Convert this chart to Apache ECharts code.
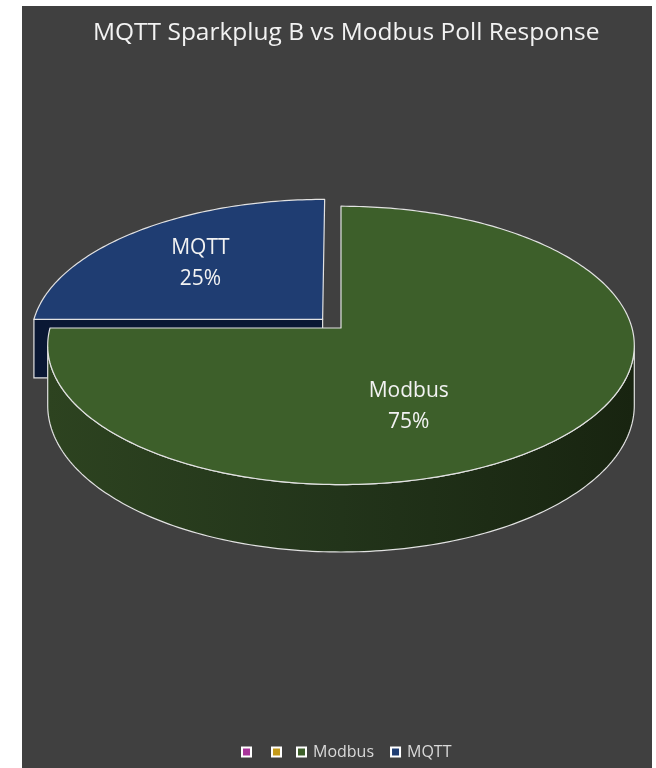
<!DOCTYPE html>
<html><head><meta charset="utf-8">
<script src="https://cdn.jsdelivr.net/npm/echarts@6/dist/echarts.min.js"></script>
<style>
html,body{margin:0;padding:0;background:#fff;width:656px;height:768px;overflow:hidden}
#panel{position:absolute;left:22px;top:6px;width:630px;height:762px;background:#404040}
#chart{position:absolute;left:0;top:0;width:656px;height:768px}
</style></head><body>
<div id="panel"></div><div id="chart"></div>
<script>
// ---- data ----
const chartTitle = 'MQTT Sparkplug B vs Modbus Poll Response';
const categories = ['', '', 'Modbus', 'MQTT'];
const values = [0, 0, 75, 25];

// ---- styles / layout ----
const sliceColors = ['#a8349a', '#c49a1a', '#3d5f2a', '#1f3d72'];
const wallColors = [
  ['#6a1f5d', '#4a1541'], ['#7a600f', '#554309'],
  ['#2d4320', '#22341a', '#182410'], ['#0d1c3a', '#091530']
];
const cutColors = ['#5a1a4f', '#6a530d', '#22341a', '#0a1834'];
const explode = [0, 0, 0, 0.09];
const labelPlace = [null, null, {r: 0.58, dphi: 23}, {r: 0.625, dphi: -1}];
const PIE = {cx: 341, cy: 328, rx: 291, ry: 137, persp: 0.125, depth: 59};
const EDGE = '#e2e2e2';
const FONT = '"Open Sans", "Noto Sans", sans-serif';

const total = values.reduce((a, b) => a + b, 0);
const legendNames = categories.map((c, i) => c === '' ? '\u200b'.repeat(i + 1) : c);

function proj(phi, r, z, ex, exPhi) {
  const a = phi * Math.PI / 180, e = exPhi * Math.PI / 180;
  const u = r * Math.sin(a) + ex * Math.sin(e);
  const v = -r * Math.cos(a) - ex * Math.cos(e);
  const s = 1 / (1 - PIE.persp * v);
  return [PIE.cx + PIE.rx * u * s, PIE.cy + (PIE.ry * v + PIE.depth * z) * s];
}
function arc(from, to, z, ex, exPhi) {
  const pts = [];
  const n = Math.max(2, Math.ceil(Math.abs(to - from)));
  for (let j = 0; j <= n; j++) pts.push(proj(from + (to - from) * j / n, 1, z, ex, exPhi));
  return pts;
}
const silR = Math.acos(-PIE.persp) * 180 / Math.PI;
const silL = 360 - silR;

function makeRender(i) {
  return function (params, api) {
    const val = api.value(0);
    if (!val) return {type: 'group', children: []};
    let before = 0;
    for (let j = 0; j < i; j++) before += values[j];
    const start = before / total * 360, end = start + val / total * 360;
    const mid = (start + end) / 2, ex = explode[i];
    const children = [];
    const cut = (ang) => {
      const pts = [proj(0, 0, 0, ex, mid), proj(ang, 1, 0, ex, mid), proj(ang, 1, 1, ex, mid), proj(0, 0, 1, ex, mid)];
      children.push({type: 'polygon', shape: {points: pts},
        style: {fill: cutColors[i], stroke: EDGE, lineWidth: 1.2}});
    };
    if (Math.sin(start * Math.PI / 180) < -1e-6) cut(start);
    if (Math.sin(end * Math.PI / 180) > 1e-6) cut(end);
    const lo = Math.max(start, silR), hi = Math.min(end, silL);
    if (lo < hi) {
      const top = arc(lo, hi, 0, ex, mid), bot = arc(hi, lo, 1, ex, mid);
      const cs = wallColors[i];
      children.push({type: 'polygon', shape: {points: top.concat(bot)},
        style: {
          fill: new echarts.graphic.LinearGradient(0, 0, 1, 0,
            cs.map((c, k) => ({offset: k / (cs.length - 1), color: c}))),
          stroke: EDGE, lineWidth: 1.2
        }});
    }
    const topPts = [proj(0, 0, 0, ex, mid)].concat(arc(start, end, 0, ex, mid));
    children.push({type: 'polygon', shape: {points: topPts},
      style: {fill: sliceColors[i], stroke: EDGE, lineWidth: 1.2, lineJoin: 'round'}});
    const lp = labelPlace[i];
    if (lp) {
      const p = proj(mid + lp.dphi, lp.r, 0, ex, mid);
      children.push({type: 'text', x: p[0], y: p[1], z2: 10,
        style: {text: categories[i] + '\n' + Math.round(val / total * 100) + '%',
          align: 'center', verticalAlign: 'middle', fill: '#f2f2f2',
          fontSize: 21, fontFamily: FONT, lineHeight: 31}});
    }
    return {type: 'group', children};
  };
}

const series = categories.map((c, i) => {
  let before = 0;
  for (let j = 0; j < i; j++) before += values[j];
  const mid = (before + values[i] / 2) / total * 360;
  return {
    type: 'custom', name: legendNames[i], coordinateSystem: 'none',
    data: [[values[i]]], renderItem: makeRender(i), silent: true,
    z: 2 - Math.cos(mid * Math.PI / 180),
    itemStyle: {color: sliceColors[i]}
  };
});

const legendBase = {
  orient: 'horizontal', top: 739, icon: 'rect', itemWidth: 9, itemHeight: 9,
  selectedMode: false,
  itemStyle: {borderColor: '#ffffff', borderWidth: 2},
  textStyle: {color: '#d9d9d9', fontSize: 16, fontFamily: FONT, padding: [0, 0, 0, 2]}
};
const blankItems = [], namedItems = [];
categories.forEach((c, i) => {
  const it = {name: legendNames[i], itemStyle: {color: sliceColors[i], borderColor: '#fff', borderWidth: 2}};
  (c === '' ? blankItems : namedItems).push(it);
});

const chart = echarts.init(document.getElementById('chart'), null, {renderer: 'canvas'});
chart.setOption({
  animation: false,
  backgroundColor: 'transparent',
  title: {
    text: chartTitle, left: 93, top: 21, padding: 0,
    textStyle: {color: '#f2f2f2', fontSize: 24.5, fontWeight: 'normal', fontFamily: FONT}
  },
  legend: [
    Object.assign({}, legendBase, {data: blankItems, left: 236, itemGap: 13}),
    Object.assign({}, legendBase, {data: namedItems, left: 291, itemGap: 16})
  ],
  series
});
</script></body></html>
